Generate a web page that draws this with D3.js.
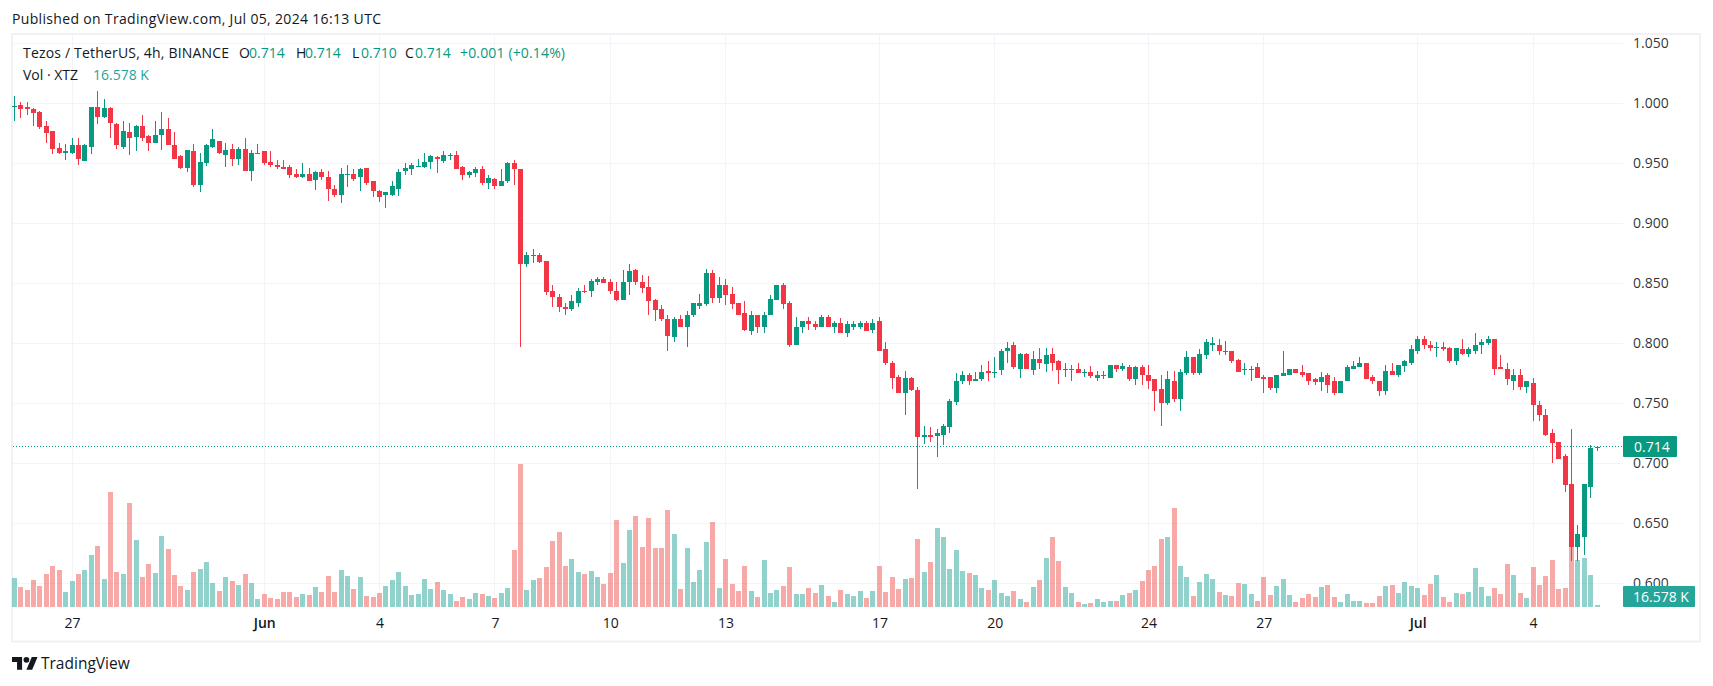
<!DOCTYPE html>
<html>
<head>
<meta charset="utf-8">
<script src="https://cdn.jsdelivr.net/npm/d3@7"></script>
<style>
  html, body { margin: 0; padding: 0; background: #fff; }
  svg { display: block; }
  text { font-family: "Open Sans", "Noto Sans", sans-serif; }
</style>
</head>
<body>
<svg id="chart" width="1713" height="686"></svg>
<script>
// 4h candles, first one sits 9 bars before May 27 00:00. Prices in thousandths.
var firstBar = -9;
var opens = [
  997,999,997,995,993,981,977,963,959,
  959,965,952,964,997,989,996,983,964,976,
  972,981,973,967,974,979,965,956,946,960,
  932,950,964,969,957,962,954,962,944,959,
  960,951,949,947,947,941,939,941,936,943,
  939,929,924,940,941,939,946,935,927,924,
  924,929,944,945,947,947,951,955,952,956,
  957,947,940,942,945,934,937,931,935,950,
  945,866,873,874,869,844,839,830,829,834,
  844,844,851,854,851,844,836,851,861,851,
  847,836,829,820,805,820,814,824,831,833,
  859,838,849,841,834,825,810,824,814,824,
  836,849,834,799,814,819,816,814,822,814,
  817,809,814,814,817,811,819,795,784,772,
  759,771,761,722,724,723,724,730,751,769,
  774,769,770,777,775,778,794,799,779,791,
  778,787,783,791,785,778,778,779,775,776,
  771,773,771,782,779,780,770,780,774,770,
  762,750,769,754,775,789,775,790,799,799,
  793,794,786,778,778,780,772,772,763,773,
  774,779,776,775,770,768,774,769,759,769,
  779,780,784,772,769,760,777,774,781,784,
  794,804,799,796,797,796,785,795,791,794,
  799,800,804,780,779,769,774,764,767,749,
  740,725,718,706,683,630,639,680,714
];
var highs = [
  1006,1001,1001,996,994,985,977,967,966,
  971,971,966,997,1010,1004,997,984,985,984,
  982,990,974,985,993,988,976,957,961,966,
  959,966,979,969,967,966,964,971,961,966,
  960,960,953,953,949,945,950,946,944,945,
  944,932,946,949,945,946,946,935,928,926,
  935,945,950,950,954,959,957,956,960,959,
  960,948,944,947,948,940,938,945,951,953,
  945,876,879,875,869,849,841,834,840,846,
  849,854,855,855,854,851,861,866,862,857,
  856,837,832,824,822,824,827,834,841,862,
  861,855,854,847,834,835,827,824,826,840,
  849,850,835,822,819,822,819,824,824,819,
  821,819,819,819,819,820,822,801,785,774,
  777,772,764,731,730,729,733,754,775,777,
  775,776,782,785,789,795,801,801,792,792,
  794,796,796,796,786,784,782,784,779,781,
  777,777,782,782,784,782,781,782,782,770,
  774,777,777,779,794,789,795,804,805,804,
  802,794,787,784,781,784,774,772,774,794,
  779,779,782,775,771,776,775,772,769,782,
  785,789,784,774,769,782,784,782,786,799,
  806,806,802,801,801,797,796,804,797,809,
  804,806,804,790,784,779,779,769,771,752,
  745,729,718,708,729,649,683,715,714
];
var lows = [
  985,988,990,981,979,967,958,958,953,
  958,949,952,958,983,988,971,962,962,957,
  960,969,960,967,961,965,954,945,943,930,
  926,948,963,958,947,948,949,944,935,958,
  949,947,945,945,938,938,938,935,928,936,
  919,922,917,930,935,927,932,922,918,913,
  923,923,940,940,947,946,945,942,950,953,
  945,936,938,939,932,929,929,931,934,932,
  797,864,867,867,840,830,826,824,827,830,
  842,839,849,850,841,835,836,840,849,842,
  824,819,819,794,801,814,797,822,829,831,
  834,834,832,829,824,810,807,809,809,824,
  836,829,797,799,809,811,811,814,814,809,
  809,805,811,812,810,809,794,782,762,759,
  740,760,679,716,718,705,715,725,749,766,
  765,769,769,769,771,774,784,779,771,779,
  774,779,776,777,766,772,769,775,772,771,
  769,770,771,776,777,769,765,765,762,744,
  731,749,751,744,774,774,774,787,794,790,
  790,784,776,774,769,771,759,761,759,773,
  774,775,772,765,765,760,759,757,759,769,
  779,780,770,766,756,757,774,772,776,782,
  791,795,794,789,794,784,782,790,789,791,
  791,799,774,779,765,761,761,759,735,735,
  723,700,704,676,619,619,624,671,710
];
var closes = [
  998,995,995,992,980,975,962,959,960,
  965,954,965,997,989,996,984,965,977,971,
  981,971,967,974,979,965,954,946,961,932,
  951,965,970,959,961,954,962,944,959,959,
  950,949,947,945,940,939,941,935,943,939,
  929,924,941,941,937,945,934,927,922,926,
  931,943,946,949,948,951,956,954,957,957,
  945,940,943,945,934,938,931,935,950,945,
  866,874,874,868,843,839,830,829,835,844,
  843,852,854,850,844,836,851,860,851,846,
  835,828,820,806,820,814,824,834,834,859,
  838,849,840,833,824,811,824,814,824,837,
  849,833,799,814,819,816,814,822,814,817,
  809,816,816,817,810,817,794,784,771,759,
  771,761,722,724,722,725,731,752,769,774,
  769,770,776,775,776,794,796,780,791,779,
  787,784,790,784,778,779,779,775,776,773,
  774,774,782,779,781,770,780,774,769,760,
  750,770,754,776,789,775,791,801,800,794,
  794,785,776,779,779,771,770,763,774,775,
  779,775,774,769,768,772,765,759,769,780,
  781,784,770,769,760,777,774,782,785,795,
  804,799,796,797,795,785,796,791,795,799,
  801,804,779,779,770,774,764,769,749,740,
  724,717,704,682,630,641,683,713,714
];
// volume in thousands of XTZ
var volumes = [
  287,197,167,267,207,327,407,367,147,
  257,327,367,517,607,277,1147,347,327,1037,
  667,297,427,337,707,577,317,207,167,347,
  377,447,237,157,297,257,217,327,237,77,
  127,87,77,147,147,97,127,117,197,147,
  307,147,367,307,177,297,107,97,137,207,
  267,347,207,117,127,277,177,247,167,127,
  57,97,77,137,127,107,87,137,187,567,
  1427,167,267,287,397,657,747,407,477,347,
  327,357,297,227,337,867,437,767,907,597,
  887,587,587,967,727,177,587,247,367,647,
  847,187,477,227,157,407,157,97,467,137,
  167,207,397,127,127,187,137,217,107,47,
  167,127,107,157,87,157,407,147,297,177,
  277,287,677,347,447,787,697,377,567,357,
  337,317,187,167,267,137,107,157,77,47,
  197,267,487,697,457,197,137,47,27,37,
  77,47,57,57,117,137,167,257,367,407,
  677,697,987,407,297,107,247,327,277,147,
  117,107,237,227,127,57,297,117,207,277,
  117,47,87,127,97,197,217,97,47,127,
  57,57,37,37,107,207,217,137,247,207,
  187,117,227,317,97,47,137,127,147,387,
  197,107,187,127,427,317,137,87,397,217,
  307,467,177,187,600,467,487,317,16.578
];
var priceTicks = [1.05, 1, 0.95, 0.9, 0.85, 0.8, 0.75, 0.7, 0.65, 0.6];
var timeTicks = [0, 30, 48, 66, 84, 102, 126, 144, 168, 186, 210, 228];
var timeLabels = ["27", "Jun", "4", "7", "10", "13", "17", "20", "24", "27", "Jul", "4"];
var lastPrice = 0.714;

var upColor = "#089981", downColor = "#f23645";
var upVol = "rgba(38,166,154,0.5)", downVol = "rgba(239,83,80,0.5)";
var gridColor = "#f3f4f8", borderColor = "#f0f0f6", inkColor = "#131722";

var svg = d3.select("#chart");
var paneLeft = 13, paneRight = 1623, paneTop = 35, paneBottom = 607;

var x = d3.scaleLinear().domain([0, 228]).range([72, 1533]);
var y = d3.scaleLinear().domain([0.6, 1.05]).range([583.3, 43.3]);
var yVol = d3.scaleLinear().domain([0, 1427]).range([606.7, 464]);

var bars = opens.map(function(o, k) {
  return {
    i: firstBar + k,
    o: o / 1000, h: highs[k] / 1000, l: lows[k] / 1000, c: closes[k] / 1000,
    v: volumes[k]
  };
});

// frame around the whole chart
svg.append("rect").attr("x", 12).attr("y", 34).attr("width", 1688).attr("height", 607.5)
  .attr("fill", "none").attr("stroke", borderColor).attr("stroke-width", 2);

// grid
svg.append("g").selectAll("line").data(priceTicks).join("line")
  .attr("x1", paneLeft).attr("x2", paneRight)
  .attr("y1", function(d) { return Math.round(y(d)) + 0.5; })
  .attr("y2", function(d) { return Math.round(y(d)) + 0.5; })
  .attr("stroke", gridColor);
svg.append("g").selectAll("line").data(timeTicks).join("line")
  .attr("x1", function(d) { return Math.floor(x(d)) + 0.5; })
  .attr("x2", function(d) { return Math.floor(x(d)) + 0.5; })
  .attr("y1", paneTop).attr("y2", paneBottom)
  .attr("stroke", gridColor);

// volume
svg.append("g").attr("shape-rendering", "crispEdges").selectAll("rect").data(bars).join("rect")
  .attr("x", function(d) { return Math.floor(x(d.i)) - 2; })
  .attr("width", 5)
  .attr("y", function(d) { return yVol(d.v); })
  .attr("height", function(d) { return yVol(0) - yVol(d.v); })
  .attr("fill", function(d) { return d.c >= d.o ? upVol : downVol; });

// last price line
svg.append("line")
  .attr("x1", paneLeft).attr("x2", paneRight)
  .attr("y1", Math.floor(y(lastPrice)) + 0.5).attr("y2", Math.floor(y(lastPrice)) + 0.5)
  .attr("stroke", upColor).attr("stroke-dasharray", "1 2");

// candles
var candles = svg.append("g").attr("shape-rendering", "crispEdges");
candles.selectAll("line").data(bars).join("line")
  .attr("x1", function(d) { return Math.floor(x(d.i)) + 0.5; })
  .attr("x2", function(d) { return Math.floor(x(d.i)) + 0.5; })
  .attr("y1", function(d) { return y(d.h); })
  .attr("y2", function(d) { return y(d.l); })
  .attr("stroke", function(d) { return d.c >= d.o ? upColor : downColor; });
candles.selectAll("rect").data(bars).join("rect")
  .attr("x", function(d) { return Math.floor(x(d.i)) - 2; })
  .attr("width", 5)
  .attr("y", function(d) { return y(Math.max(d.o, d.c)); })
  .attr("height", function(d) { return Math.max(1, Math.abs(y(d.o) - y(d.c))); })
  .attr("fill", function(d) { return d.c >= d.o ? upColor : downColor; });

// axes
var priceAxis = d3.axisRight(y).tickValues(priceTicks).tickFormat(d3.format(".3f")).tickSize(0).tickPadding(10);
var gPrice = svg.append("g").attr("transform", "translate(" + paneRight + ",0)").call(priceAxis);
gPrice.select(".domain").remove();
gPrice.selectAll("text").attr("font-size", 14).attr("fill", inkColor).attr("fill-opacity", 0.9)
  .style("font-family", '"Open Sans", sans-serif');

var timeAxis = d3.axisBottom(x).tickValues(timeTicks)
  .tickFormat(function(d, k) { return timeLabels[k]; }).tickSize(0).tickPadding(11);
var gTime = svg.append("g").attr("transform", "translate(0," + paneBottom + ")").call(timeAxis);
gTime.select(".domain").remove();
gTime.selectAll("text").attr("font-size", 14).attr("fill", inkColor)
  .attr("font-weight", function(d, k) { return timeLabels[k].length === 3 && isNaN(timeLabels[k]) ? 600 : 400; })
  .style("font-family", '"Open Sans", sans-serif');

// price and volume tags on the scale
svg.append("rect").attr("x", 1623).attr("y", 436).attr("width", 54).attr("height", 21).attr("rx", 1).attr("fill", upColor);
svg.append("text").attr("x", 1634).attr("y", 451.5).attr("font-size", 14).attr("fill", "#fff").text(d3.format(".3f")(lastPrice));
svg.append("rect").attr("x", 1623).attr("y", 586).attr("width", 72).attr("height", 21).attr("rx", 1).attr("fill", "#26a69a");
svg.append("text").attr("x", 1633).attr("y", 601.5).attr("font-size", 14).attr("fill", "#fff").text("16.578 K");

// header and legend
function label(xPos, yPos, txt, fill, size) {
  return svg.append("text").attr("x", xPos).attr("y", yPos).attr("font-size", size || 14).attr("fill", fill).text(txt);
}
label(12, 24, "Published on TradingView.com, Jul 05, 2024 16:13 UTC", inkColor, 14).attr("textLength", 369);
label(23, 58, "Tezos / TetherUS, 4h, BINANCE", inkColor).attr("textLength", 206);
label(239, 58, "O", inkColor); label(249, 58, "0.714", upColor);
label(296, 58, "H", inkColor); label(305, 58, "0.714", upColor);
label(352, 58, "L", inkColor); label(361, 58, "0.710", upColor);
label(405, 58, "C", inkColor); label(415, 58, "0.714", upColor);
label(460, 58, "+0.001 (+0.14%)", upColor).attr("textLength", 105);
label(23, 80, "Vol · XTZ", inkColor);
label(93, 80, "16.578 K", "#26a69a");

// footer logo and name
var logo = svg.append("g").attr("transform", "translate(12,654) scale(0.72)").attr("fill", inkColor);
logo.append("path").attr("d", "M14 22H7V11H0V4h14v18zM28 22h-8l7.5-18h8L28 22z");
logo.append("circle").attr("cx", 20).attr("cy", 8).attr("r", 4);
label(41, 669, "TradingView", inkColor, 15.5);
</script>
</body>
</html>
